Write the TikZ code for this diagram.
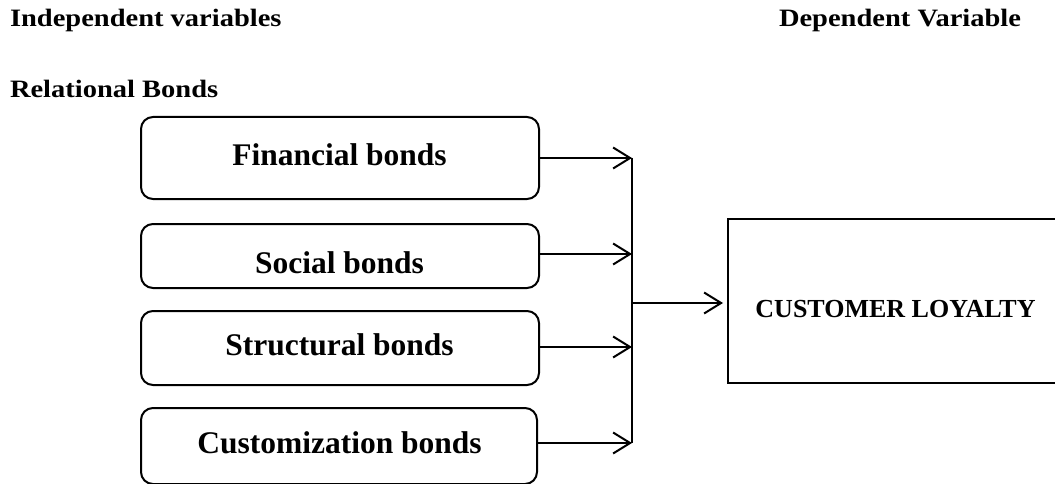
\documentclass[tikz,border=0pt]{standalone}
\usepackage{fontspec}
\setmainfont{Liberation Serif}
\newfontfamily\headfont[FakeStretch=1.14]{Liberation Serif}
\usetikzlibrary{arrows.meta}
\begin{document}
\begin{tikzpicture}[x=1pt,y=-1pt,
  line width=2pt,
  bondbox/.style={draw, rounded corners=12pt, minimum width=398pt, inner sep=0pt},
  bondtext/.style={anchor=base, inner sep=0pt, font=\fontsize{31.5}{36}\selectfont\bfseries},
  headtext/.style={anchor=base west, inner sep=0pt, font=\headfont\fontsize{25}{30}\selectfont\bfseries},
  arr/.style={-{Straight Barb[length=17pt,width=21pt]}},
]
\clip (0,0) rectangle (1055,484);
\fill[white] (0,0) rectangle (1055,484);

% headings
\node[headtext] (indep) at (9,27) {Independent variables};
\node[headtext, anchor=base east] (dep) at (1022,27) {Dependent Variable};
\node[headtext] (rel) at (9,98) {Relational Bonds};

% relational bond boxes
\node[bondbox, minimum height=82pt] (b1) at (340,158) {};
\node[bondbox, minimum height=64pt] (b2) at (340,256) {};
\node[bondbox, minimum height=74pt] (b3) at (340,348) {};
\node[bondbox, minimum height=76pt, minimum width=396pt] (b4) at (339,446) {};

\node[bondtext] (t1) at (339.5,165) {Financial bonds};
\node[bondtext] (t2) at (339.5,273) {Social bonds};
\node[bondtext] (t3) at (339.5,355) {Structural bonds};
\node[bondtext] (t4) at (339.5,453) {Customization bonds};

% outcome box
\node[draw, minimum width=342pt, minimum height=164pt, inner sep=0pt] (cl) at (899,301) {};
\node[anchor=base, inner sep=0pt, font=\fontsize{26}{30}\selectfont\bfseries] (tcl) at (895.5,317) {CUSTOMER LOYALTY};

% collecting bus
\coordinate (j1) at (632,158);
\coordinate (j2) at (632,254);
\coordinate (j3) at (632,347);
\coordinate (j4) at (632,443);
\coordinate (jm) at (632,303);

\draw[arr] (b1.east |- j1) -- (j1);
\draw[arr] (b2.east |- j2) -- (j2);
\draw[arr] (b3.east |- j3) -- (j3);
\draw[arr] (b4.east |- j4) -- (j4);
\draw (j1) -- (j4);
\draw[arr, shorten >=4pt] (jm) -- (cl.west |- jm);
\end{tikzpicture}
\end{document}
